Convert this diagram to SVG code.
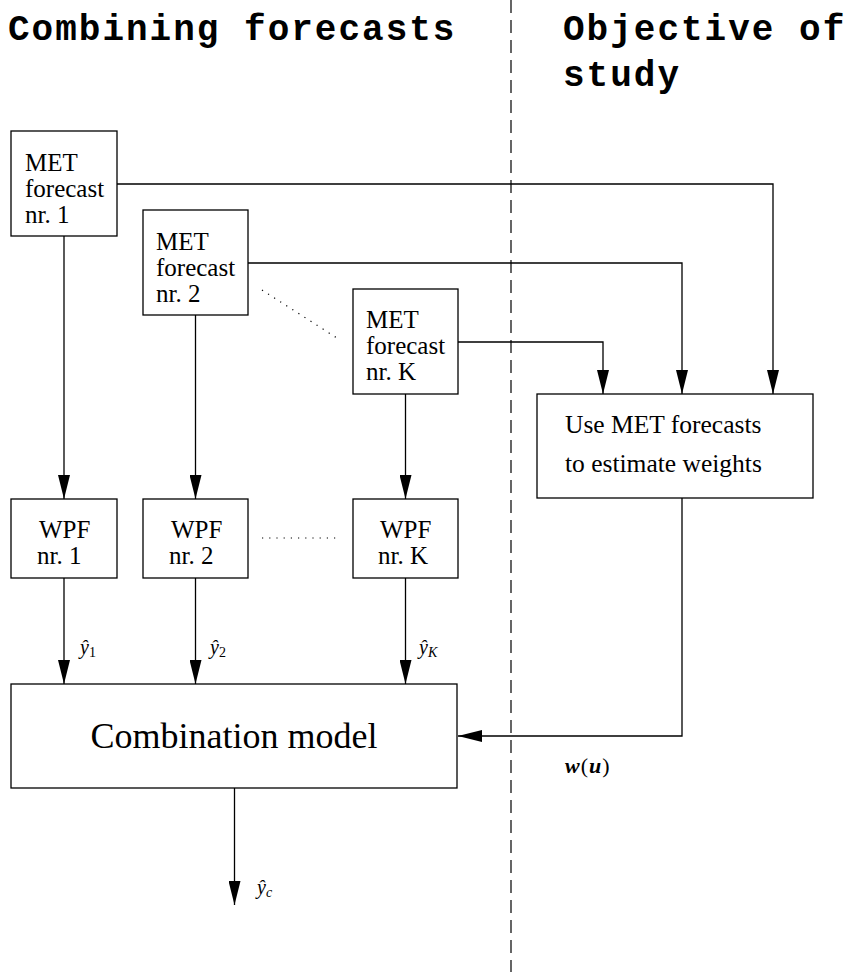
<svg xmlns="http://www.w3.org/2000/svg" width="850" height="972" viewBox="0 0 850 972">
<defs>
<marker id="ah" viewBox="0 0 24 12" refX="24" refY="6" markerWidth="24" markerHeight="12" markerUnits="userSpaceOnUse" orient="auto">
<path d="M0,0 L24,6 L0,12 Z" fill="#000"/>
</marker>
<style>
.box{fill:#fff;stroke:#000;stroke-width:1.3}
.t{font-family:"Times New Roman","Liberation Serif",serif;font-size:25px;fill:#000}
.big{font-size:36px}
.mid{font-size:25.5px}
.h{font-family:"Courier New","Liberation Mono",monospace;font-size:36px;letter-spacing:2px;font-weight:bold;fill:#000}
.a{fill:none;stroke:#000;stroke-width:1.3;marker-end:url(#ah)}
.m{font-family:"Times New Roman","Liberation Serif",serif;font-style:italic;font-size:20px;fill:#000}
.sub{font-size:14px}
.up{font-style:normal}
.dot{fill:none;stroke:#000;stroke-width:1.2;stroke-dasharray:1.2,6}
</style>
</defs>
<rect width="850" height="972" fill="#fff"/>
<g id="headers">
<text class="h" x="8" y="40">Combining forecasts</text>
<text class="h" x="563" y="40">Objective of</text>
<text class="h" x="563" y="86">study</text>
</g>
<line x1="511" y1="0" x2="511" y2="972" stroke="#000" stroke-width="1.2" stroke-dasharray="13,7"/>
<g id="connectors">
<path class="a" d="M117,184 H773 V394"/>
<path class="a" d="M248,263 H682 V394"/>
<path class="a" d="M458,342 H603 V394"/>
<path class="a" d="M682,498 V736 H458"/>
<path class="a" d="M64,236 V499"/>
<path class="a" d="M195.5,315 V499"/>
<path class="a" d="M405.5,394 V499"/>
<path class="a" d="M64,578 V684"/>
<path class="a" d="M195.5,578 V684"/>
<path class="a" d="M405.5,578 V684"/>
<path class="a" d="M234.5,788 V905"/>
<line class="dot" x1="262" y1="290" x2="340" y2="340"/>
<line class="dot" x1="262" y1="538" x2="340" y2="538"/>
</g>
<g id="met1">
<rect class="box" x="11" y="131" width="106" height="105"/>
<text class="t" x="25" y="171">MET</text>
<text class="t" x="25" y="197">forecast</text>
<text class="t" x="25" y="223">nr. 1</text>
</g>
<g id="met2">
<rect class="box" x="143" y="210" width="105" height="105"/>
<text class="t" x="156" y="250">MET</text>
<text class="t" x="156" y="276">forecast</text>
<text class="t" x="156" y="302">nr. 2</text>
</g>
<g id="metK">
<rect class="box" x="353" y="289" width="105" height="105"/>
<text class="t" x="366" y="328">MET</text>
<text class="t" x="366" y="354">forecast</text>
<text class="t" x="366" y="380">nr. K</text>
</g>
<g id="weights">
<rect class="box" x="537" y="394" width="276" height="104"/>
<text class="t mid" x="565" y="433">Use MET forecasts</text>
<text class="t mid" x="565" y="472">to estimate weights</text>
</g>
<g id="wpf1">
<rect class="box" x="11" y="499" width="106" height="79"/>
<text class="t" x="39" y="538">WPF</text>
<text class="t" x="37" y="564">nr. 1</text>
</g>
<g id="wpf2">
<rect class="box" x="143" y="499" width="105" height="79"/>
<text class="t" x="171" y="538">WPF</text>
<text class="t" x="169" y="564">nr. 2</text>
</g>
<g id="wpfK">
<rect class="box" x="353" y="499" width="105" height="79"/>
<text class="t" x="380" y="538">WPF</text>
<text class="t" x="378" y="564">nr. K</text>
</g>
<g id="combination">
<rect class="box" x="11" y="684" width="446" height="104"/>
<text class="t big" x="234" y="748" text-anchor="middle">Combination model</text>
</g>
<g id="labels">
<text class="m" x="80" y="654">ŷ<tspan class="sub up" dy="3">1</tspan></text>
<text class="m" x="210" y="654">ŷ<tspan class="sub up" dy="3">2</tspan></text>
<text class="m" x="419" y="654">ŷ<tspan class="sub" dy="3">K</tspan></text>
<text class="m" x="257" y="894">ŷ<tspan class="sub" dy="3">c</tspan></text>
<text class="m" x="565" y="773" font-weight="bold" style="font-size:22px">w<tspan class="up" style="font-weight:normal" dx="1">(</tspan><tspan dx="1">u</tspan><tspan class="up" style="font-weight:normal" dx="1">)</tspan></text>
</g>
</svg>
